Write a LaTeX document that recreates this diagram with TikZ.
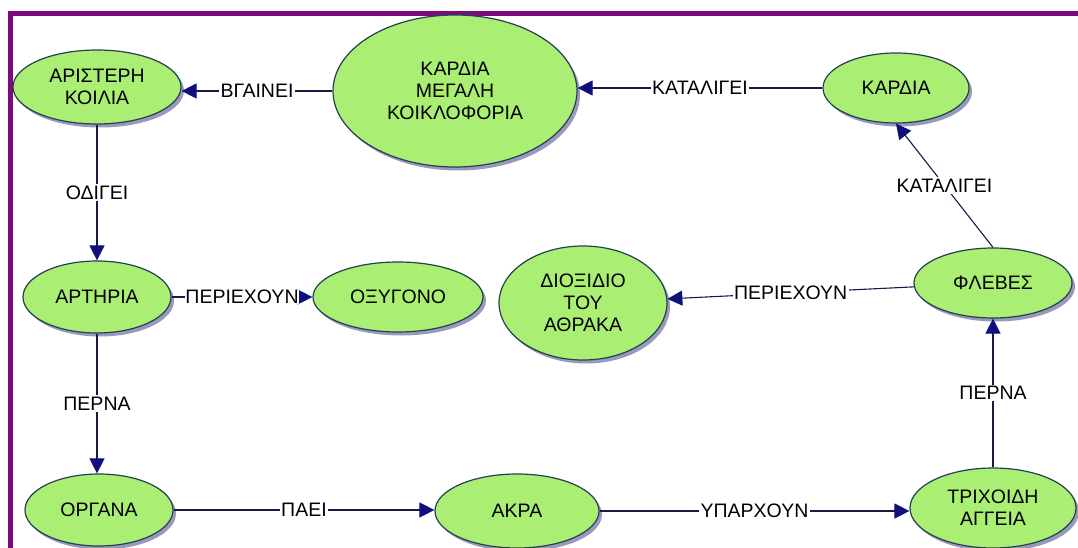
\documentclass[tikz,border=0pt]{standalone}
\usepackage{fontspec}
\setmainfont{Liberation Sans}
\usetikzlibrary{shapes.geometric,arrows.meta,shadows}

\definecolor{conceptfill}{RGB}{170,238,115}
\definecolor{conceptline}{RGB}{35,65,80}
\definecolor{shadowc}{RGB}{120,120,170}
\definecolor{linkc}{RGB}{25,25,70}
\definecolor{tipc}{RGB}{15,15,125}
\definecolor{framec}{RGB}{125,10,125}

\tikzset{
  concept/.style={ellipse, draw=conceptline, line width=1.2pt, fill=conceptfill,
    inner sep=0pt, align=center,
    font=\fontsize{19.5}{22}\selectfont,
    drop shadow={shadow xshift=3pt, shadow yshift=-3.5pt, fill=shadowc, opacity=0.75}},
  link/.style={draw=linkc, line width=1.1pt,
    -{Triangle[length=15pt, width=15pt, fill=tipc, color=tipc]}},
  lbl/.style={fill=white, inner sep=1.5pt, text=black,
    font=\fontsize{19.5}{22}\selectfont}
}

\begin{document}
\begin{tikzpicture}[x=1pt, y=-1pt]
  \useasboundingbox (0,0) rectangle (1078,548);
  \fill[white] (0,0) rectangle (1078,548);

  % frame along the top and left sides
  \draw[framec, line width=5pt] (10.8,548) -- (10.8,13.2) -- (1078,13.2);

  % concepts
  \node[concept, minimum width=168pt, minimum height=74pt]  (aristeri) at (97,87)  {ΑΡΙΣΤΕΡΗ\\ΚΟΙΛΙΑ};
  \node[concept, minimum width=244pt, minimum height=152pt] (megali)   at (455,91) {ΚΑΡΔΙΑ\\ΜΕΓΑΛΗ\\ΚΟΙΚΛΟΦΟΡΙΑ};
  \node[concept, minimum width=146pt, minimum height=70pt]  (kardia)   at (896,88) {ΚΑΡΔΙΑ};
  \node[concept, minimum width=148pt, minimum height=72pt]  (arteria)  at (97,297) {ΑΡΤΗΡΙΑ};
  \node[concept, minimum width=170pt, minimum height=70pt]  (oxygono)  at (398,297) {ΟΞΥΓΟΝΟ};
  \node[concept, minimum width=168pt, minimum height=114pt] (dioxidio) at (583,303) {ΔΙΟΞΙΔΙΟ\\ΤΟΥ\\ΑΘΡΑΚΑ};
  \node[concept, minimum width=158pt, minimum height=70pt]  (flebes)   at (993,283) {ΦΛΕΒΕΣ};
  \node[concept, minimum width=148pt, minimum height=72pt]  (organa)   at (99,510)  {ΟΡΓΑΝΑ};
  \node[concept, minimum width=164pt, minimum height=74pt]  (akra)     at (517,511) {ΑΚΡΑ};
  \node[concept, minimum width=166pt, minimum height=80pt]  (trixoidi) at (993,508) {ΤΡΙΧΟΙΔΗ\\ΑΓΓΕΙΑ};

  % links
  \draw[link] (megali.west) -- node[lbl]{ΒΓΑΙΝΕΙ} (megali.west -| aristeri.east);
  \draw[link] (kardia.west) -- node[lbl]{ΚΑΤΑΛΙΓΕΙ} (kardia.west -| megali.east);
  \draw[link] (flebes.north) -- node[lbl]{ΚΑΤΑΛΙΓΕΙ} (kardia.south);
  \draw[link] (aristeri) -- node[lbl]{ΟΔΙΓΕΙ} (arteria);
  \draw[link] (arteria) -- node[lbl, inner sep=0.5pt]{ΠΕΡΙΕΧΟΥΝ} (oxygono);
  \draw[link] (arteria.south) -- node[lbl]{ΠΕΡΝΑ} (arteria.south |- organa.north);
  \draw[link] (organa.east) -- node[lbl]{ΠΑΕΙ} (organa.east -| akra.west);
  \draw[link] (akra.east) -- node[lbl]{ΥΠΑΡΧΟΥΝ} (akra.east -| trixoidi.west);
  \draw[link] (trixoidi) -- node[lbl]{ΠΕΡΝΑ} (flebes);
  \draw[link] (flebes) -- node[lbl]{ΠΕΡΙΕΧΟΥΝ} (dioxidio);
\end{tikzpicture}
\end{document}
